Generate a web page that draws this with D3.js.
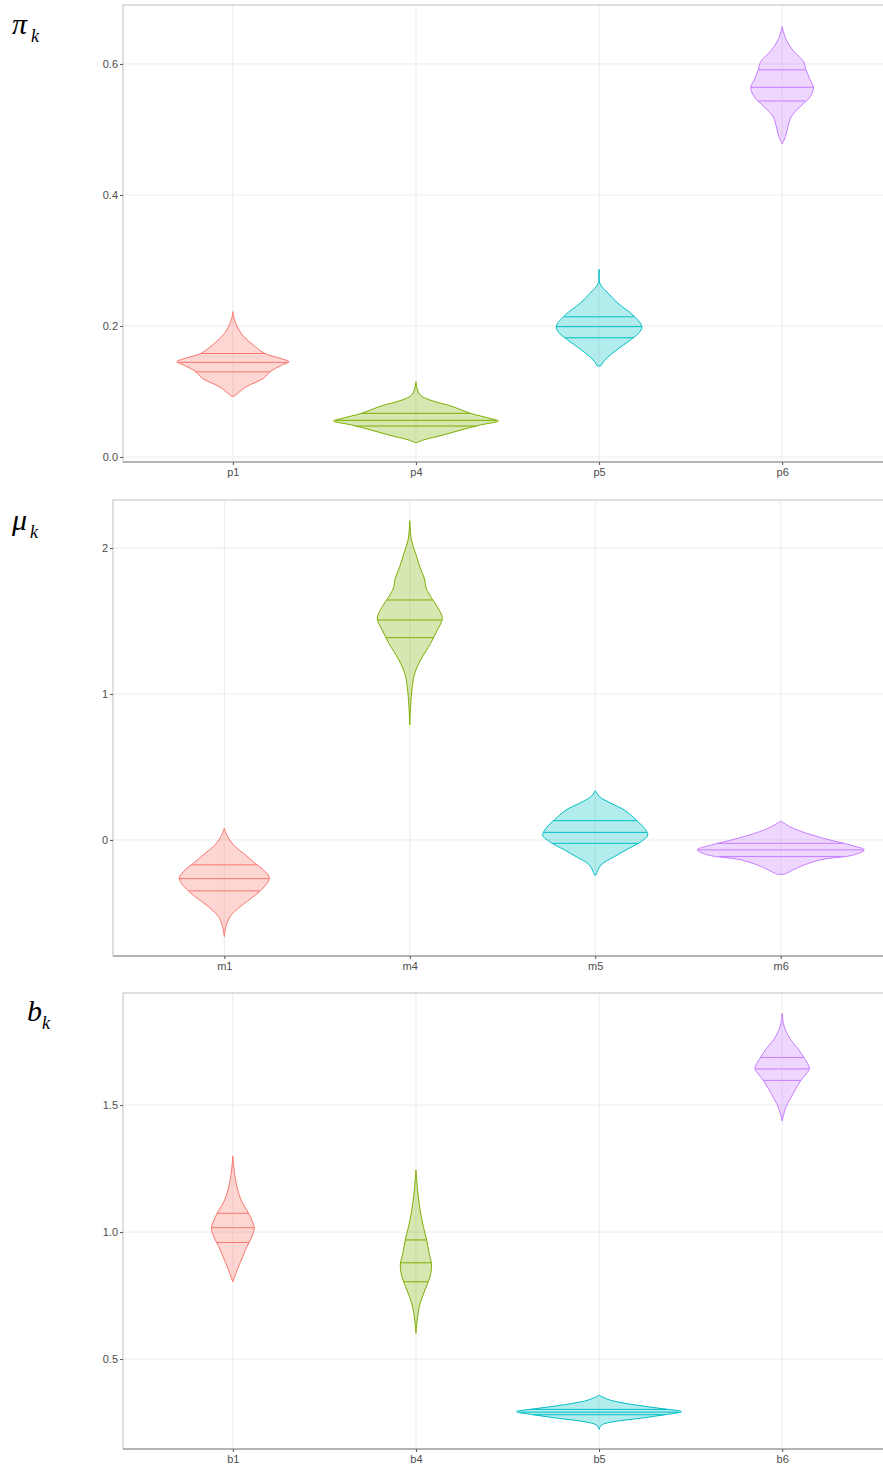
<!DOCTYPE html>
<html>
<head>
<meta charset="utf-8">
<script src="https://cdn.jsdelivr.net/npm/d3@7"></script>
<style>
  body { margin: 0; background: #fff; }
  svg { display: block; }
</style>
</head>
<body>
<svg id="chart" width="883" height="1466"></svg>
<script>
// ---- data ----
// values along each violin (top to bottom), relative density at each value, and 25/50/75% quantiles
var colors = ["#F8766D", "#7CAE00", "#00BFC4", "#C77CFF"];

var piCats = ["p1", "p4", "p5", "p6"];
var piTicks = [0, 0.2, 0.4, 0.6];
var piVals = [
    [0.222, 0.209, 0.189, 0.174, 0.158, 0.151, 0.1455, 0.140, 0.130, 0.120, 0.107, 0.093],
    [0.115, 0.107, 0.0947, 0.087, 0.0768, 0.0667, 0.059, 0.055, 0.0489, 0.041, 0.0336, 0.026, 0.022],
    [0.2865, 0.265, 0.250, 0.2346, 0.2168, 0.199, 0.189, 0.1786, 0.163, 0.148, 0.139],
    [0.657, 0.6366, 0.621, 0.6035, 0.591, 0.5756, 0.5644, 0.550, 0.5348, 0.5195, 0.504, 0.489, 0.478]
];
var piDens = [
    [0, 0.02, 0.10, 0.22, 0.39, 0.57, 0.68, 0.59, 0.45, 0.37, 0.16, 0.02],
    [0, 0.01, 0.05, 0.17, 0.45, 0.66, 0.90, 1.0, 0.78, 0.54, 0.33, 0.09, 0.01],
    [0, 0.01, 0.11, 0.23, 0.41, 0.52, 0.48, 0.38, 0.21, 0.07, 0.02],
    [0, 0.05, 0.13, 0.26, 0.29, 0.34, 0.38, 0.34, 0.22, 0.11, 0.07, 0.04, 0]
];
var piQuant = [[0.158, 0.1445, 0.130], [0.0667, 0.056, 0.0473], [0.214, 0.199, 0.182], [0.591, 0.5644, 0.5435]];

var muCats = ["m1", "m4", "m5", "m6"];
var muTicks = [0, 1, 2];
var muVals = [
    [0.080, 0.023, -0.046, -0.091, -0.160, -0.205, -0.262, -0.320, -0.388, -0.457, -0.525, -0.594, -0.662],
    [2.187, 2.055, 1.963, 1.872, 1.781, 1.735, 1.667, 1.598, 1.518, 1.438, 1.347, 1.233, 1.142, 1.050, 0.913, 0.788],
    [0.338, 0.297, 0.251, 0.205, 0.137, 0.080, 0.034, -0.011, -0.068, -0.114, -0.171, -0.240],
    [0.130, 0.091, 0.046, 0.0, -0.034, -0.068, -0.103, -0.137, -0.183, -0.228, -0.235]
];
var muDens = [
    [0, 0.04, 0.13, 0.23, 0.37, 0.47, 0.54, 0.48, 0.35, 0.19, 0.07, 0.02, 0],
    [0, 0.02, 0.07, 0.12, 0.18, 0.19, 0.25, 0.33, 0.39, 0.33, 0.25, 0.13, 0.06, 0.03, 0.01, 0],
    [0, 0.05, 0.19, 0.35, 0.49, 0.59, 0.63, 0.55, 0.37, 0.23, 0.07, 0.01],
    [0, 0.11, 0.31, 0.59, 0.83, 1.0, 0.87, 0.47, 0.23, 0.07, 0.04]
];
var muQuant = [[-0.171, -0.265, -0.349], [1.644, 1.507, 1.386], [0.132, 0.052, -0.023], [-0.023, -0.068, -0.114]];

var bCats = ["b1", "b4", "b5", "b6"];
var bTicks = [0.5, 1.0, 1.5];
var bVals = [
    [1.299, 1.231, 1.178, 1.126, 1.074, 1.047, 1.015, 0.981, 0.942, 0.903, 0.857, 0.804],
    [1.244, 1.165, 1.087, 1.021, 0.969, 0.916, 0.870, 0.824, 0.772, 0.719, 0.667, 0.601],
    [0.358, 0.339, 0.319, 0.306, 0.293, 0.280, 0.267, 0.253, 0.240, 0.223],
    [1.861, 1.815, 1.763, 1.723, 1.684, 1.644, 1.618, 1.598, 1.566, 1.526, 1.487, 1.437]
];
var bDens = [
    [0, 0.02, 0.05, 0.10, 0.19, 0.23, 0.26, 0.23, 0.17, 0.12, 0.06, 0],
    [0, 0.02, 0.05, 0.09, 0.13, 0.16, 0.19, 0.17, 0.11, 0.05, 0.02, 0],
    [0, 0.13, 0.45, 0.74, 1.0, 0.78, 0.50, 0.17, 0.03, 0],
    [0, 0.02, 0.09, 0.19, 0.27, 0.33, 0.28, 0.23, 0.17, 0.10, 0.04, 0]
];
var bQuant = [[1.074, 1.017, 0.959], [0.969, 0.879, 0.804], [0.302, 0.291, 0.281], [1.687, 1.642, 1.597]];

var svg = d3.select("#chart");

// Function to draw one violin panel
function drawPanel(p) {
    var x = d3.scalePoint()
        .domain(p.cats)
        .range([p.left, p.right])
        .padding(0.6);
    var y = d3.scaleLinear()
        .domain(p.domain)
        .range([p.bottom, p.top]);
    var w = d3.scaleLinear()
        .domain([0, 1])
        .range([0, x.step() * 0.45]);

    var g = svg.append("g");

    // grid lines
    g.selectAll(".hgrid")
        .data(p.ticks)
        .enter().append("line")
        .attr("x1", p.left).attr("x2", p.right)
        .attr("y1", function (d) { return y(d); })
        .attr("y2", function (d) { return y(d); })
        .attr("stroke", "#ebebeb")
        .attr("stroke-width", 1);
    g.selectAll(".vgrid")
        .data(p.cats)
        .enter().append("line")
        .attr("x1", function (d) { return x(d); })
        .attr("x2", function (d) { return x(d); })
        .attr("y1", p.top).attr("y2", p.bottom)
        .attr("stroke", "#ebebeb")
        .attr("stroke-width", 1);

    // violins
    p.cats.forEach(function (c, i) {
        var cx = x(c);
        var pts = p.vals[i].map(function (v, j) { return [v, p.dens[i][j]]; });
        var area = d3.area()
            .y(function (d) { return y(d[0]); })
            .x0(function (d) { return cx - w(d[1]); })
            .x1(function (d) { return cx + w(d[1]); })
            .curve(d3.curveCatmullRom);
        g.append("path")
            .attr("d", area(pts))
            .attr("fill", colors[i])
            .attr("fill-opacity", 0.3)
            .attr("stroke", colors[i])
            .attr("stroke-width", 1);

        // quantile lines
        var vs = p.vals[i].slice().reverse();
        var ds = p.dens[i].slice().reverse();
        var dens = d3.scaleLinear().domain(vs).range(ds);
        g.selectAll(null)
            .data(p.quant[i])
            .enter().append("line")
            .attr("x1", function (q) { return cx - w(dens(q)); })
            .attr("x2", function (q) { return cx + w(dens(q)); })
            .attr("y1", function (q) { return y(q); })
            .attr("y2", function (q) { return y(q); })
            .attr("stroke", colors[i])
            .attr("stroke-width", 1);
    });

    // panel border and bottom axis line
    g.append("rect")
        .attr("x", p.left).attr("y", p.top)
        .attr("width", p.right - p.left).attr("height", p.bottom - p.top)
        .attr("fill", "none")
        .attr("stroke", "#bfbfbf")
        .attr("stroke-width", 1);
    g.append("line")
        .attr("x1", p.left).attr("x2", p.right)
        .attr("y1", p.bottom).attr("y2", p.bottom)
        .attr("stroke", "#a6a6a6")
        .attr("stroke-width", 1.5);

    // axes
    var ya = g.append("g")
        .attr("transform", "translate(" + p.left + ",0)")
        .call(d3.axisLeft(y).tickValues(p.ticks).tickSize(3).tickPadding(2).tickFormat(d3.format(p.fmt)));
    var xa = g.append("g")
        .attr("transform", "translate(0," + p.bottom + ")")
        .call(d3.axisBottom(x).tickSize(3).tickPadding(3));
    [ya, xa].forEach(function (a) {
        a.select(".domain").remove();
        a.selectAll(".tick line").attr("stroke", "#555");
        a.selectAll("text")
            .attr("fill", "#4d4d4d")
            .attr("font-family", "'Liberation Sans', Arial, sans-serif")
            .attr("font-size", "11px");
    });

    // panel label, e.g. pi_k
    var t = g.append("text")
        .attr("x", p.labelX)
        .attr("y", p.labelY)
        .attr("font-family", "'Liberation Serif', 'Times New Roman', serif")
        .attr("font-style", "italic")
        .attr("font-size", "30px")
        .attr("fill", "#000");
    t.append("tspan").text(p.label);
    t.append("tspan")
        .attr("font-size", "18px")
        .attr("dx", p.subDx)
        .attr("dy", 8)
        .text("k");
}

drawPanel({
    cats: piCats, vals: piVals, dens: piDens, quant: piQuant, ticks: piTicks, fmt: ".1f",
    domain: [-0.0076, 0.690], left: 123, right: 892, top: 5, bottom: 462,
    label: "\u03C0", labelX: 12, labelY: 34, subDx: 4
});
drawPanel({
    cats: muCats, vals: muVals, dens: muDens, quant: muQuant, ticks: muTicks, fmt: "d",
    domain: [-0.795, 2.329], left: 113, right: 892, top: 500, bottom: 956,
    label: "\u03BC", labelX: 12, labelY: 530, subDx: 3
});
drawPanel({
    cats: bCats, vals: bVals, dens: bDens, quant: bQuant, ticks: bTicks, fmt: ".1f",
    domain: [0.146, 1.941], left: 123, right: 892, top: 993, bottom: 1449,
    label: "b", labelX: 27, labelY: 1021, subDx: 0
});
</script>
</body>
</html>
